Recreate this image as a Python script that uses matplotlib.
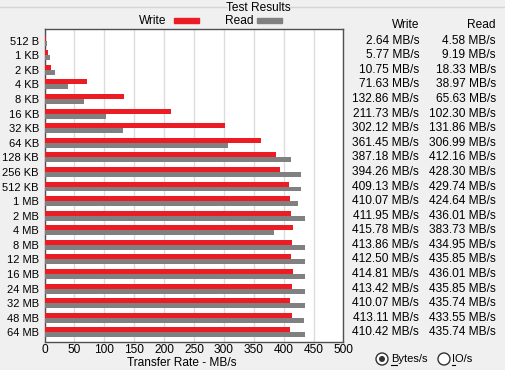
#!/usr/bin/env python3
import numpy as np
import matplotlib
matplotlib.use("Agg")
import matplotlib.pyplot as plt
from matplotlib.patches import Rectangle, Circle
from matplotlib.transforms import blended_transform_factory

plt.rcParams['font.family'] = ['Liberation Sans', 'DejaVu Sans']

# ATTO style results
sizes = ["512 B", "1 KB", "2 KB", "4 KB", "8 KB", "16 KB", "32 KB", "64 KB",
         "128 KB", "256 KB", "512 KB", "1 MB", "2 MB", "4 MB", "8 MB", "12 MB",
         "16 MB", "24 MB", "32 MB", "48 MB", "64 MB"]
write = [2.64, 5.77, 10.75, 71.63, 132.86, 211.73, 302.12, 361.45,
         387.18, 394.26, 409.13, 410.07, 411.95, 415.78, 413.86, 412.50,
         414.81, 413.42, 410.07, 413.11, 410.42]
read = [4.58, 9.19, 18.33, 38.97, 65.63, 102.30, 131.86, 306.99,
        412.16, 428.30, 429.74, 424.64, 436.01, 383.73, 434.95, 435.85,
        436.01, 435.85, 435.74, 433.55, 435.74]
xticks = [0, 50, 100, 150, 200, 250, 300, 350, 400, 450, 500]

red = "#ec1c24"
grey = "#808080"
bg = "#f0f0f0"
fs = 8
fs_val = 8.6

fig = plt.figure(figsize=(5.05, 3.70), dpi=100, facecolor=bg)
W, H = 505, 370
ax = fig.add_axes([44.5 / W, 28.3 / H, 299 / W, 312.4 / H])
ax.set_facecolor("white")

y = np.arange(len(sizes))
bh = 0.34
ax.barh(y - bh / 2, write, height=bh, color=red, zorder=3)
ax.barh(y + bh / 2, read, height=bh, color=grey, zorder=3)

ax.set_xlim(0, 500)
ax.set_ylim(20.64, -0.78)
ax.set_xticks(xticks)
ax.set_xticklabels([str(t) for t in xticks], fontsize=fs_val)
ax.set_yticks(y)
ax.set_yticklabels(sizes, fontsize=fs)
ax.tick_params(axis="both", length=0)
ax.tick_params(axis="y", pad=4)
ax.tick_params(axis="x", pad=2)
ax.grid(axis="x", color="#dcdcdc", linewidth=1, zorder=0)
for s in ax.spines.values():
    s.set_color("#505050")
    s.set_linewidth(1)

# value columns next to the chart
tr = blended_transform_factory(fig.transFigure, ax.transData)
ax.text(419 / W, -1.05, "Write", transform=tr, ha="right", va="center", fontsize=fs_val, clip_on=False)
ax.text(496 / W, -1.05, "Read", transform=tr, ha="right", va="center", fontsize=fs_val, clip_on=False)
for i in range(len(sizes)):
    ax.text(419 / W, i, f"{write[i]:.2f} MB/s", transform=tr, ha="right", va="center",
            fontsize=fs_val, clip_on=False)
    ax.text(496 / W, i, f"{read[i]:.2f} MB/s", transform=tr, ha="right", va="center",
            fontsize=fs_val, clip_on=False)

# overlay in pixel coords for the dialog bits
ov = fig.add_axes([0, 0, 1, 1], facecolor="none")
ov.set_xlim(0, W)
ov.set_ylim(H, 0)
ov.axis("off")

ov.plot([0, 226], [7, 7], color="#d5d5d5", lw=1)
ov.plot([290, W], [7, 7], color="#d5d5d5", lw=1)
ov.text(258, 8, "Test Results", ha="center", va="center", fontsize=fs_val)

ov.text(166, 20.5, "Write", ha="right", va="center", fontsize=fs_val)
ov.add_patch(Rectangle((174, 17.5), 25, 5, color=red))
ov.text(225, 20.5, "Read", ha="left", va="center", fontsize=fs_val)
ov.add_patch(Rectangle((257, 17.5), 25, 5, color=grey))

ov.text(182, 362.5, "Transfer Rate - MB/s", ha="center", va="center", fontsize=fs_val)

# radio buttons
ov.add_patch(Circle((382, 359), 6, facecolor="white", edgecolor="#333333", lw=1))
ov.add_patch(Circle((382, 359), 3, facecolor="#333333", edgecolor="none"))
ov.text(391, 359, "Bytes/s", ha="left", va="center", fontsize=fs)
ov.plot([391, 397], [365, 365], color="black", lw=0.8)
ov.add_patch(Circle((444, 359), 6, facecolor="white", edgecolor="#333333", lw=1))
ov.text(452, 359, "IO/s", ha="left", va="center", fontsize=fs)
ov.plot([452, 455], [365, 365], color="black", lw=0.8)

fig.savefig("out.png", dpi=100, facecolor=bg)
